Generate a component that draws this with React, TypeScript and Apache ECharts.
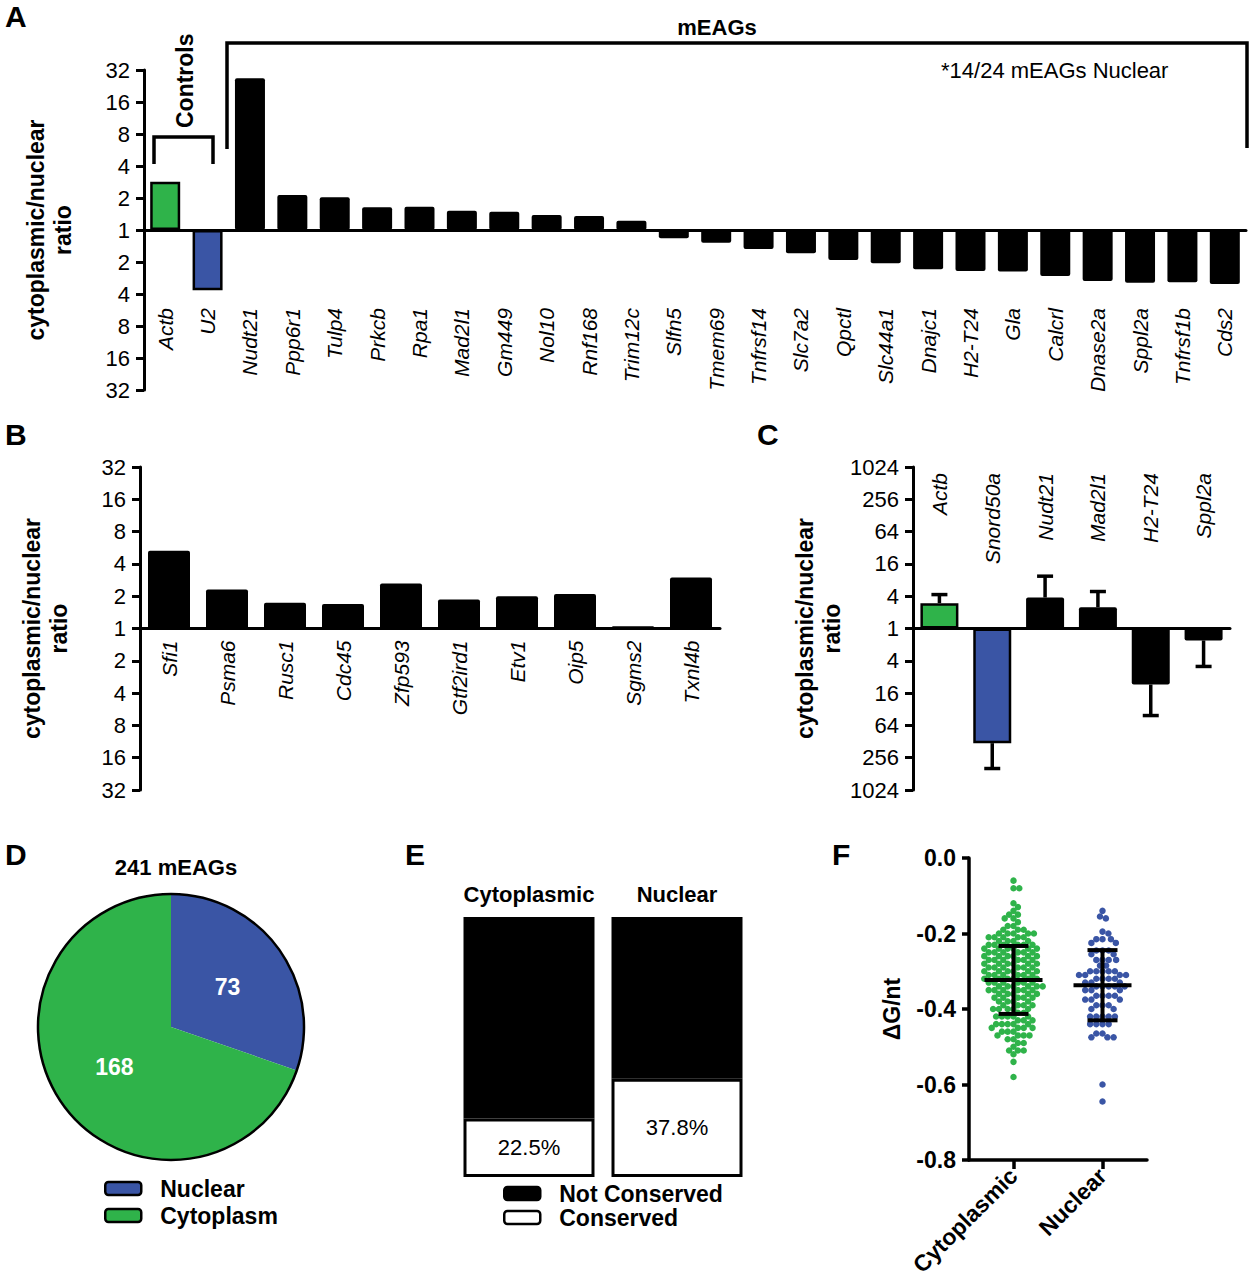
import { useEffect, useRef } from 'react';
import * as echarts from 'echarts';

const GREEN = '#2fb34a';
const BLUE = '#3a55a5';
const FONT = '"Liberation Sans", Arial, sans-serif';

// A: cytoplasmic/nuclear ratio, signed log2 (positive = cytoplasmic)
const aGenes = ['Actb', 'U2', 'Nudt21', 'Ppp6r1', 'Tulp4', 'Prkcb', 'Rpa1', 'Mad2l1', 'Gm449', 'Nol10', 'Rnf168', 'Trim12c', 'Slfn5', 'Tmem69', 'Tnfrsf14', 'Slc7a2', 'Qpctl', 'Slc44a1', 'Dnajc1', 'H2-T24', 'Gla', 'Calcrl', 'Dnase2a', 'Sppl2a', 'Tnfrsf1b', 'Cds2'];
const aLog2Ratio = [1.51, -1.88, 4.74, 1.09, 1.02, 0.71, 0.73, 0.6, 0.57, 0.47, 0.44, 0.29, -0.26, -0.4, -0.59, -0.73, -0.94, -1.04, -1.23, -1.28, -1.3, -1.44, -1.59, -1.65, -1.63, -1.69];
const ratioTickLabels = ['32', '16', '8', '4', '2', '1', '2', '4', '8', '16', '32'];

// B
const bGenes = ['Sfi1', 'Psma6', 'Rusc1', 'Cdc45', 'Zfp593', 'Gtf2ird1', 'Etv1', 'Oip5', 'Sgms2', 'Txnl4b'];
const bLog2Ratio = [2.41, 1.21, 0.8, 0.76, 1.39, 0.9, 1.0, 1.07, 0.07, 1.58];

// C
const cGenes = ['Actb', 'Snord50a', 'Nudt21', 'Mad2l1', 'H2-T24', 'Sppl2a'];
const cLog2Ratio = [1.57, -7.1, 1.92, 1.32, -3.47, -0.74];
const cLog2Err = [0.53, 1.57, 1.32, 0.97, 1.92, 1.61];
const cTickLabels = ['1024', '256', '64', '16', '4', '1', '4', '16', '64', '256', '1024'];

// D
const dNames = ['Nuclear', 'Cytoplasm'];
const dCounts = [73, 168];

// E
const eGroups = ['Cytoplasmic', 'Nuclear'];
const eConserved = [22.5, 37.8];
const eNotConserved = [77.5, 62.2];

// F: dG/nt values and how many points sit at each
const fCytoValues = [-0.06, -0.08, -0.12, -0.13, -0.14, -0.15, -0.16, -0.17, -0.18, -0.19, -0.2, -0.21, -0.22, -0.23, -0.24, -0.25, -0.26, -0.27, -0.28, -0.29, -0.3, -0.31, -0.32, -0.33, -0.34, -0.35, -0.36, -0.37, -0.38, -0.39, -0.4, -0.41, -0.42, -0.43, -0.44, -0.45, -0.46, -0.47, -0.48, -0.49, -0.5, -0.51, -0.52, -0.54, -0.58];
const fCytoCounts = [1, 2, 1, 1, 1, 2, 2, 1, 2, 3, 5, 5, 4, 6, 6, 6, 6, 6, 6, 6, 6, 6, 6, 6, 6, 6, 5, 5, 4, 4, 5, 2, 5, 3, 5, 4, 3, 4, 2, 2, 1, 3, 1, 1, 1];
const fNucValues = [-0.14, -0.155, -0.16, -0.195, -0.2, -0.215, -0.225, -0.245, -0.255, -0.27, -0.285, -0.3, -0.31, -0.32, -0.33, -0.34, -0.35, -0.365, -0.375, -0.39, -0.4, -0.42, -0.44, -0.465, -0.475, -0.6, -0.645];
const fNucCounts = [1, 1, 1, 1, 1, 3, 2, 3, 2, 4, 2, 5, 4, 4, 3, 5, 3, 4, 3, 3, 2, 5, 4, 2, 3, 1, 1];
const fMeans = [-0.323, -0.337];
const fSD = [0.09, 0.093];

function expand(values: number[], counts: number[]) {
  const out: number[] = [];
  values.forEach((v, i) => {
    for (let k = 0; k < counts[i]; k++) out.push(v);
  });
  return out;
}

// beeswarm layout: horizontal pixel offsets so that dots don't overlap
function swarmOffsets(vals: number[], pxPerUnit: number, d: number) {
  const placed: { x: number; y: number }[] = [];
  return vals.map((v, idx) => {
    const y = -v * pxPerUnit;
    const near = placed.filter((p) => Math.abs(p.y - y) < d);
    const cands = [0];
    near.forEach((p) => {
      const dx = Math.sqrt(d * d - (p.y - y) * (p.y - y));
      cands.push(p.x + dx, p.x - dx);
    });
    const sgn = idx % 2 ? 1 : -1;
    cands.sort((a, b) => Math.abs(a) - Math.abs(b) || (a - b) * sgn);
    const x = cands.find((c) => near.every((p) => (p.x - c) ** 2 + (p.y - y) ** 2 >= d * d - 0.01)) ?? 0;
    placed.push({ x, y });
    return x;
  });
}

const axisLineStyle = { show: true, lineStyle: { color: '#000', width: 3 } };

function ratioYAxis(gridIndex: number, min: number, max: number, interval: number, labels: string[]) {
  return {
    gridIndex,
    type: 'value',
    min,
    max,
    interval,
    axisLine: axisLineStyle,
    axisTick: { show: true, length: 8, lineStyle: { color: '#000', width: 3 } },
    axisLabel: {
      color: '#000',
      fontSize: 22,
      margin: 14,
      formatter: (v: number) => labels[Math.round((v - min) / interval)],
    },
    splitLine: { show: false },
    name: 'cytoplasmic/nuclear\nratio',
    nameLocation: 'middle',
    nameRotate: 90,
    nameGap: 68,
    nameTextStyle: { color: '#000', fontSize: 23, fontWeight: 'bold', lineHeight: 27 },
  };
}

function geneXAxis(gridIndex: number, data: string[]) {
  return {
    gridIndex,
    type: 'category',
    data,
    axisLine: axisLineStyle,
    axisTick: { show: false },
    axisLabel: { show: false },
  };
}

// vertical italic gene names, hanging down from a point dy below value `at`
function geneLabels(axisIndex: number, genes: string[], at: number, dy: number) {
  return {
    name: `labels ${axisIndex}`,
    type: 'custom',
    xAxisIndex: axisIndex,
    yAxisIndex: axisIndex,
    silent: true,
    z: 4,
    data: genes.map((g, i) => [i, at]),
    renderItem: (params: any, api: any) => {
      const p = api.coord([api.value(0), api.value(1)]);
      return {
        type: 'text',
        x: p[0],
        y: p[1] + dy,
        rotation: Math.PI / 2,
        style: {
          text: genes[params.dataIndex],
          font: `italic 21px ${FONT}`,
          fill: '#000',
          align: 'right',
          verticalAlign: 'middle',
        },
      };
    },
  };
}

function barColour(name: string) {
  if (name === 'Actb') return { color: GREEN, borderColor: '#000', borderWidth: 2.5 };
  if (name === 'U2' || name === 'Snord50a') return { color: BLUE, borderColor: '#000', borderWidth: 2.5 };
  return { color: '#000', borderRadius: 2 };
}

export default function App() {
  const chartRef = useRef<HTMLDivElement>(null);

  useEffect(() => {
    document.body.style.margin = '0';
    if (!chartRef.current) return;
    const chart = echarts.init(chartRef.current, undefined, { renderer: 'svg' });

    const fPxPerUnit = 302 / 0.8;
    const fPxPerX = 89;
    const cyto = expand(fCytoValues, fCytoCounts);
    const nuc = expand(fNucValues, fNucCounts);
    const cytoOff = swarmOffsets(cyto, fPxPerUnit, 5.8);
    const nucOff = swarmOffsets(nuc, fPxPerUnit, 6.2);

    const legendText = { color: '#000', fontSize: 23, fontWeight: 'bold', lineHeight: 23, padding: [0, 0, 0, 14] };

    const option: any = {
      animation: false,
      textStyle: { fontFamily: FONT, color: '#000' },
      grid: [
        { left: 144, top: 70, width: 1102, height: 320 },
        { left: 140, top: 467, width: 580, height: 323 },
        { left: 913, top: 467, width: 317, height: 323 },
        { left: 455, top: 917, width: 296, height: 260 },
        { left: 969, top: 858, width: 178, height: 302 },
      ],
      xAxis: [
        geneXAxis(0, aGenes),
        geneXAxis(1, bGenes),
        geneXAxis(2, cGenes),
        {
          gridIndex: 3,
          type: 'category',
          position: 'top',
          data: eGroups,
          axisLine: { show: false },
          axisTick: { show: false },
          axisLabel: { color: '#000', fontSize: 22, fontWeight: 'bold', margin: 12, interval: 0 },
        },
        {
          gridIndex: 4,
          type: 'category',
          data: eGroups,
          axisLine: { show: true, onZero: false, lineStyle: { color: '#000', width: 3.5 } },
          axisTick: { show: true, alignWithLabel: true, length: 9, lineStyle: { color: '#000', width: 3.5 } },
          axisLabel: { color: '#000', fontSize: 23, fontWeight: 'bold', rotate: 45, margin: 12, interval: 0 },
        },
        { gridIndex: 4, type: 'value', min: -0.5, max: 1.5, show: false },
      ],
      yAxis: [
        ratioYAxis(0, -5, 5, 1, ratioTickLabels),
        ratioYAxis(1, -5, 5, 1, ratioTickLabels),
        ratioYAxis(2, -10, 10, 2, cTickLabels),
        { gridIndex: 3, type: 'value', min: 0, max: 100, show: false },
        {
          gridIndex: 4,
          type: 'value',
          min: -0.8,
          max: 0,
          interval: 0.2,
          axisLine: { show: true, onZero: false, lineStyle: { color: '#000', width: 3.5 } },
          axisTick: { show: true, length: 7, lineStyle: { color: '#000', width: 3.5 } },
          axisLabel: {
            color: '#000',
            fontSize: 23,
            fontWeight: 'bold',
            margin: 13,
            formatter: (v: number) => v.toFixed(1),
          },
          splitLine: { show: false },
          name: 'ΔG/nt',
          nameLocation: 'middle',
          nameRotate: 90,
          nameGap: 66,
          nameTextStyle: { color: '#000', fontSize: 23, fontWeight: 'bold' },
        },
      ],
      legend: [
        {
          data: dNames,
          orient: 'vertical',
          left: 104,
          top: 1177,
          padding: 0,
          itemGap: 4,
          itemWidth: 36,
          itemHeight: 13,
          icon: 'roundRect',
          selectedMode: false,
          itemStyle: { borderColor: '#000', borderWidth: 2.5 },
          textStyle: legendText,
        },
        {
          data: ['Not Conserved', 'Conserved'],
          orient: 'vertical',
          left: 503,
          top: 1182,
          padding: 0,
          itemGap: 1,
          itemWidth: 36,
          itemHeight: 13,
          icon: 'roundRect',
          selectedMode: false,
          itemStyle: { borderColor: '#000', borderWidth: 2.5 },
          textStyle: legendText,
        },
      ],
      series: [
        {
          name: 'A ratio',
          type: 'bar',
          xAxisIndex: 0,
          yAxisIndex: 0,
          barWidth: 30,
          data: aLog2Ratio.map((v, i) => ({ value: v, itemStyle: barColour(aGenes[i]) })),
        },
        geneLabels(0, aGenes, 0, 78),
        {
          name: 'B ratio',
          type: 'bar',
          xAxisIndex: 1,
          yAxisIndex: 1,
          barWidth: 42,
          data: bLog2Ratio.map((v, i) => ({ value: v, itemStyle: barColour(bGenes[i]) })),
        },
        geneLabels(1, bGenes, 0, 12),
        {
          name: 'C ratio',
          type: 'bar',
          xAxisIndex: 2,
          yAxisIndex: 2,
          barWidth: 38,
          data: cLog2Ratio.map((v, i) => ({ value: v, itemStyle: barColour(cGenes[i]) })),
        },
        {
          name: 'C error',
          type: 'custom',
          xAxisIndex: 2,
          yAxisIndex: 2,
          z: 3,
          data: cLog2Ratio.map((v, i) => [i, v, cLog2Err[i]]),
          renderItem: (params: any, api: any) => {
            const i = api.value(0);
            const v = api.value(1);
            const e = api.value(2);
            const p0 = api.coord([i, v]);
            const p1 = api.coord([i, v >= 0 ? v + e : v - e]);
            const style = { stroke: '#000', lineWidth: 3.5 };
            return {
              type: 'group',
              children: [
                { type: 'line', shape: { x1: p0[0], y1: p0[1], x2: p1[0], y2: p1[1] }, style },
                { type: 'line', shape: { x1: p1[0] - 8, y1: p1[1], x2: p1[0] + 8, y2: p1[1] }, style },
              ],
            };
          },
        },
        geneLabels(2, cGenes, 10, 6),
        {
          name: 'D pie',
          type: 'pie',
          center: [171, 1027],
          radius: 133,
          startAngle: 90,
          clockwise: true,
          silent: true,
          label: { show: true, position: 'inside', formatter: '{c}', color: '#fff', fontSize: 23, fontWeight: 'bold' },
          labelLine: { show: false },
          data: dNames.map((n, i) => ({ name: n, value: dCounts[i], itemStyle: { color: i === 0 ? BLUE : GREEN } })),
        },
        {
          name: 'D outline',
          type: 'pie',
          center: [171, 1027],
          radius: 133,
          silent: true,
          label: { show: false },
          labelLine: { show: false },
          itemStyle: { color: 'rgba(0,0,0,0)', borderColor: '#000', borderWidth: 2.5 },
          data: [{ name: 'all', value: dCounts[0] + dCounts[1] }],
        },
        {
          name: 'Conserved',
          type: 'bar',
          stack: 'e',
          xAxisIndex: 3,
          yAxisIndex: 3,
          barWidth: 131,
          itemStyle: { color: '#fff', borderColor: '#000', borderWidth: 3 },
          label: { show: true, position: 'inside', formatter: '{c}%', color: '#000', fontSize: 22 },
          data: eConserved,
        },
        {
          name: 'Not Conserved',
          type: 'bar',
          stack: 'e',
          xAxisIndex: 3,
          yAxisIndex: 3,
          barWidth: 131,
          itemStyle: { color: '#000', borderColor: '#000', borderWidth: 3 },
          data: eNotConserved,
        },
        {
          name: 'F cytoplasmic',
          type: 'scatter',
          xAxisIndex: 5,
          yAxisIndex: 4,
          symbolSize: 6.5,
          itemStyle: { color: GREEN, opacity: 1 },
          data: cyto.map((v, i) => [0 + cytoOff[i] / fPxPerX, v]),
        },
        {
          name: 'F nuclear',
          type: 'scatter',
          xAxisIndex: 5,
          yAxisIndex: 4,
          symbolSize: 6.5,
          itemStyle: { color: BLUE, opacity: 1 },
          data: nuc.map((v, i) => [1 + nucOff[i] / fPxPerX, v]),
        },
        {
          name: 'F mean SD',
          type: 'custom',
          xAxisIndex: 5,
          yAxisIndex: 4,
          z: 5,
          data: fMeans.map((m, i) => [i, m, fSD[i]]),
          renderItem: (params: any, api: any) => {
            const x = api.value(0);
            const m = api.value(1);
            const s = api.value(2);
            const pm = api.coord([x, m]);
            const pt = api.coord([x, m + s]);
            const pb = api.coord([x, m - s]);
            const style = { stroke: '#000', lineWidth: 4 };
            return {
              type: 'group',
              children: [
                { type: 'line', shape: { x1: pm[0] - 29, y1: pm[1], x2: pm[0] + 29, y2: pm[1] }, style },
                { type: 'line', shape: { x1: pt[0], y1: pt[1], x2: pb[0], y2: pb[1] }, style },
                { type: 'line', shape: { x1: pt[0] - 15, y1: pt[1], x2: pt[0] + 15, y2: pt[1] }, style },
                { type: 'line', shape: { x1: pb[0] - 15, y1: pb[1], x2: pb[0] + 15, y2: pb[1] }, style },
              ],
            };
          },
        },
      ],
      graphic: [
        ...[
          ['A', 5, 16],
          ['B', 5, 434],
          ['C', 757, 434],
          ['D', 5, 854],
          ['E', 405, 854],
          ['F', 832, 854],
        ].map(([t, x, y]) => ({
          type: 'text',
          x,
          y,
          style: { text: t, font: `bold 30px ${FONT}`, fill: '#000', align: 'left', verticalAlign: 'middle' },
        })),
        {
          type: 'polyline',
          shape: { points: [[154, 164], [154, 137], [213, 137], [213, 164]] },
          style: { stroke: '#000', lineWidth: 3.5, fill: null },
        },
        {
          type: 'polyline',
          shape: { points: [[227, 149], [227, 43], [1247, 43], [1247, 148]] },
          style: { stroke: '#000', lineWidth: 3.5, fill: null },
        },
        {
          type: 'text',
          x: 185,
          y: 128,
          rotation: Math.PI / 2,
          style: { text: 'Controls', font: `bold 23px ${FONT}`, fill: '#000', align: 'left', verticalAlign: 'middle' },
        },
        {
          type: 'text',
          x: 717,
          y: 27,
          style: { text: 'mEAGs', font: `bold 22px ${FONT}`, fill: '#000', align: 'center', verticalAlign: 'middle' },
        },
        {
          type: 'text',
          x: 941,
          y: 70,
          style: { text: '*14/24 mEAGs Nuclear', font: `22px ${FONT}`, fill: '#000', align: 'left', verticalAlign: 'middle' },
        },
        {
          type: 'text',
          x: 176,
          y: 867,
          style: { text: '241 mEAGs', font: `bold 22px ${FONT}`, fill: '#000', align: 'center', verticalAlign: 'middle' },
        },
      ],
    };

    chart.setOption(option);
    return () => {
      chart.dispose();
    };
  }, []);

  return <div ref={chartRef} style={{ width: 1258, height: 1280 }} />;
}
